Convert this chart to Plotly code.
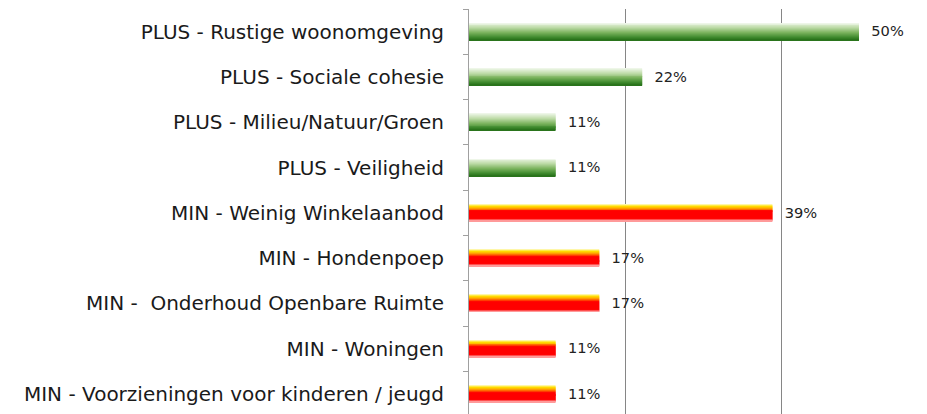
import plotly.graph_objects as go
from plotly.colors import sample_colorscale

# ---- data ----
categories = [
    "PLUS - Rustige woonomgeving",
    "PLUS - Sociale cohesie",
    "PLUS - Milieu/Natuur/Groen",
    "PLUS - Veiligheid",
    "MIN - Weinig Winkelaanbod",
    "MIN - Hondenpoep",
    "MIN -  Onderhoud Openbare Ruimte",
    "MIN - Woningen",
    "MIN - Voorzieningen voor kinderen / jeugd",
]
values = [50.0, 22.2, 11.1, 11.1, 38.9, 16.7, 16.7, 11.1, 11.1]
groups = ["PLUS", "PLUS", "PLUS", "PLUS", "MIN", "MIN", "MIN", "MIN", "MIN"]

# ---- style ----
GREEN_SCALE = [[0.0, "#eef6e8"], [0.3, "#bcdaa6"], [0.6, "#79b25c"],
               [0.87, "#3f8a2e"], [1.0, "#2a741c"]]
RED_SCALE = [[0.0, "#fff7a8"], [0.1, "#ffe100"], [0.22, "#ffa800"],
             [0.34, "#ff4a00"], [0.42, "#ff0000"], [0.88, "#ff0000"],
             [1.0, "#ff9a9a"]]
N_SLICES = 18
THICK = 0.375
PAGE_OFFSET = 8  # default body margin of the html page

g_cols = sample_colorscale(GREEN_SCALE, [k / (N_SLICES - 1) for k in range(N_SLICES)])
r_cols = sample_colorscale(RED_SCALE, [k / (N_SLICES - 1) for k in range(N_SLICES)])

fig = go.Figure()

# label-carrying base bar (transparent)
fig.add_trace(go.Bar(
    x=values, y=categories, orientation="h",
    width=THICK, marker=dict(color="rgba(0,0,0,0)", line=dict(width=0)),
    texttemplate="  %{x:.0f}%", textposition="outside",
    textfont=dict(family="DejaVu Sans", size=15.5, color="#222222"),
    cliponaxis=False, hoverinfo="skip", showlegend=False,
))

sw = THICK / N_SLICES
for k in range(N_SLICES):
    cols = [g_cols[k] if g == "PLUS" else r_cols[k] for g in groups]
    fig.add_trace(go.Bar(
        x=values, y=categories, orientation="h",
        width=sw * 1.05, offset=-THICK / 2 + k * sw,
        marker=dict(color=cols, line=dict(width=0)),
        hoverinfo="skip", showlegend=False,
    ))

W = 927 - PAGE_OFFSET
H = 414 - PAGE_OFFSET
L = 469 - PAGE_OFFSET
T = 9 - PAGE_OFFSET
PX_PER_UNIT_X = 7.8
PX_PER_CAT = 45.3

fig.update_layout(
    width=W, height=H,
    margin=dict(l=L, r=0, t=T, b=0, autoexpand=False),
    barmode="overlay",
    plot_bgcolor="white", paper_bgcolor="white",
    font=dict(family="DejaVu Sans", size=20, color="#1a1a1a"),
)
fig.update_xaxes(
    range=[0, (W - L) / PX_PER_UNIT_X], automargin=False,
    showgrid=True, gridcolor="#868686", gridwidth=1, dtick=20,
    showticklabels=False, zeroline=False, showline=False, ticks="",
)
fig.update_yaxes(
    type="category", categoryorder="array", categoryarray=categories,
    range=[(H - T) / PX_PER_CAT - 0.5, -0.5], automargin=False,
    showline=True, linecolor="#a0a0a0", linewidth=1,
    ticks="outside", tickson="boundaries", ticklen=5, tickcolor="#a0a0a0",
    ticklabelstandoff=20, showgrid=False, zeroline=False,
    tickfont=dict(family="DejaVu Sans", size=20, color="#1a1a1a"),
)

fig.write_html("out.html")
